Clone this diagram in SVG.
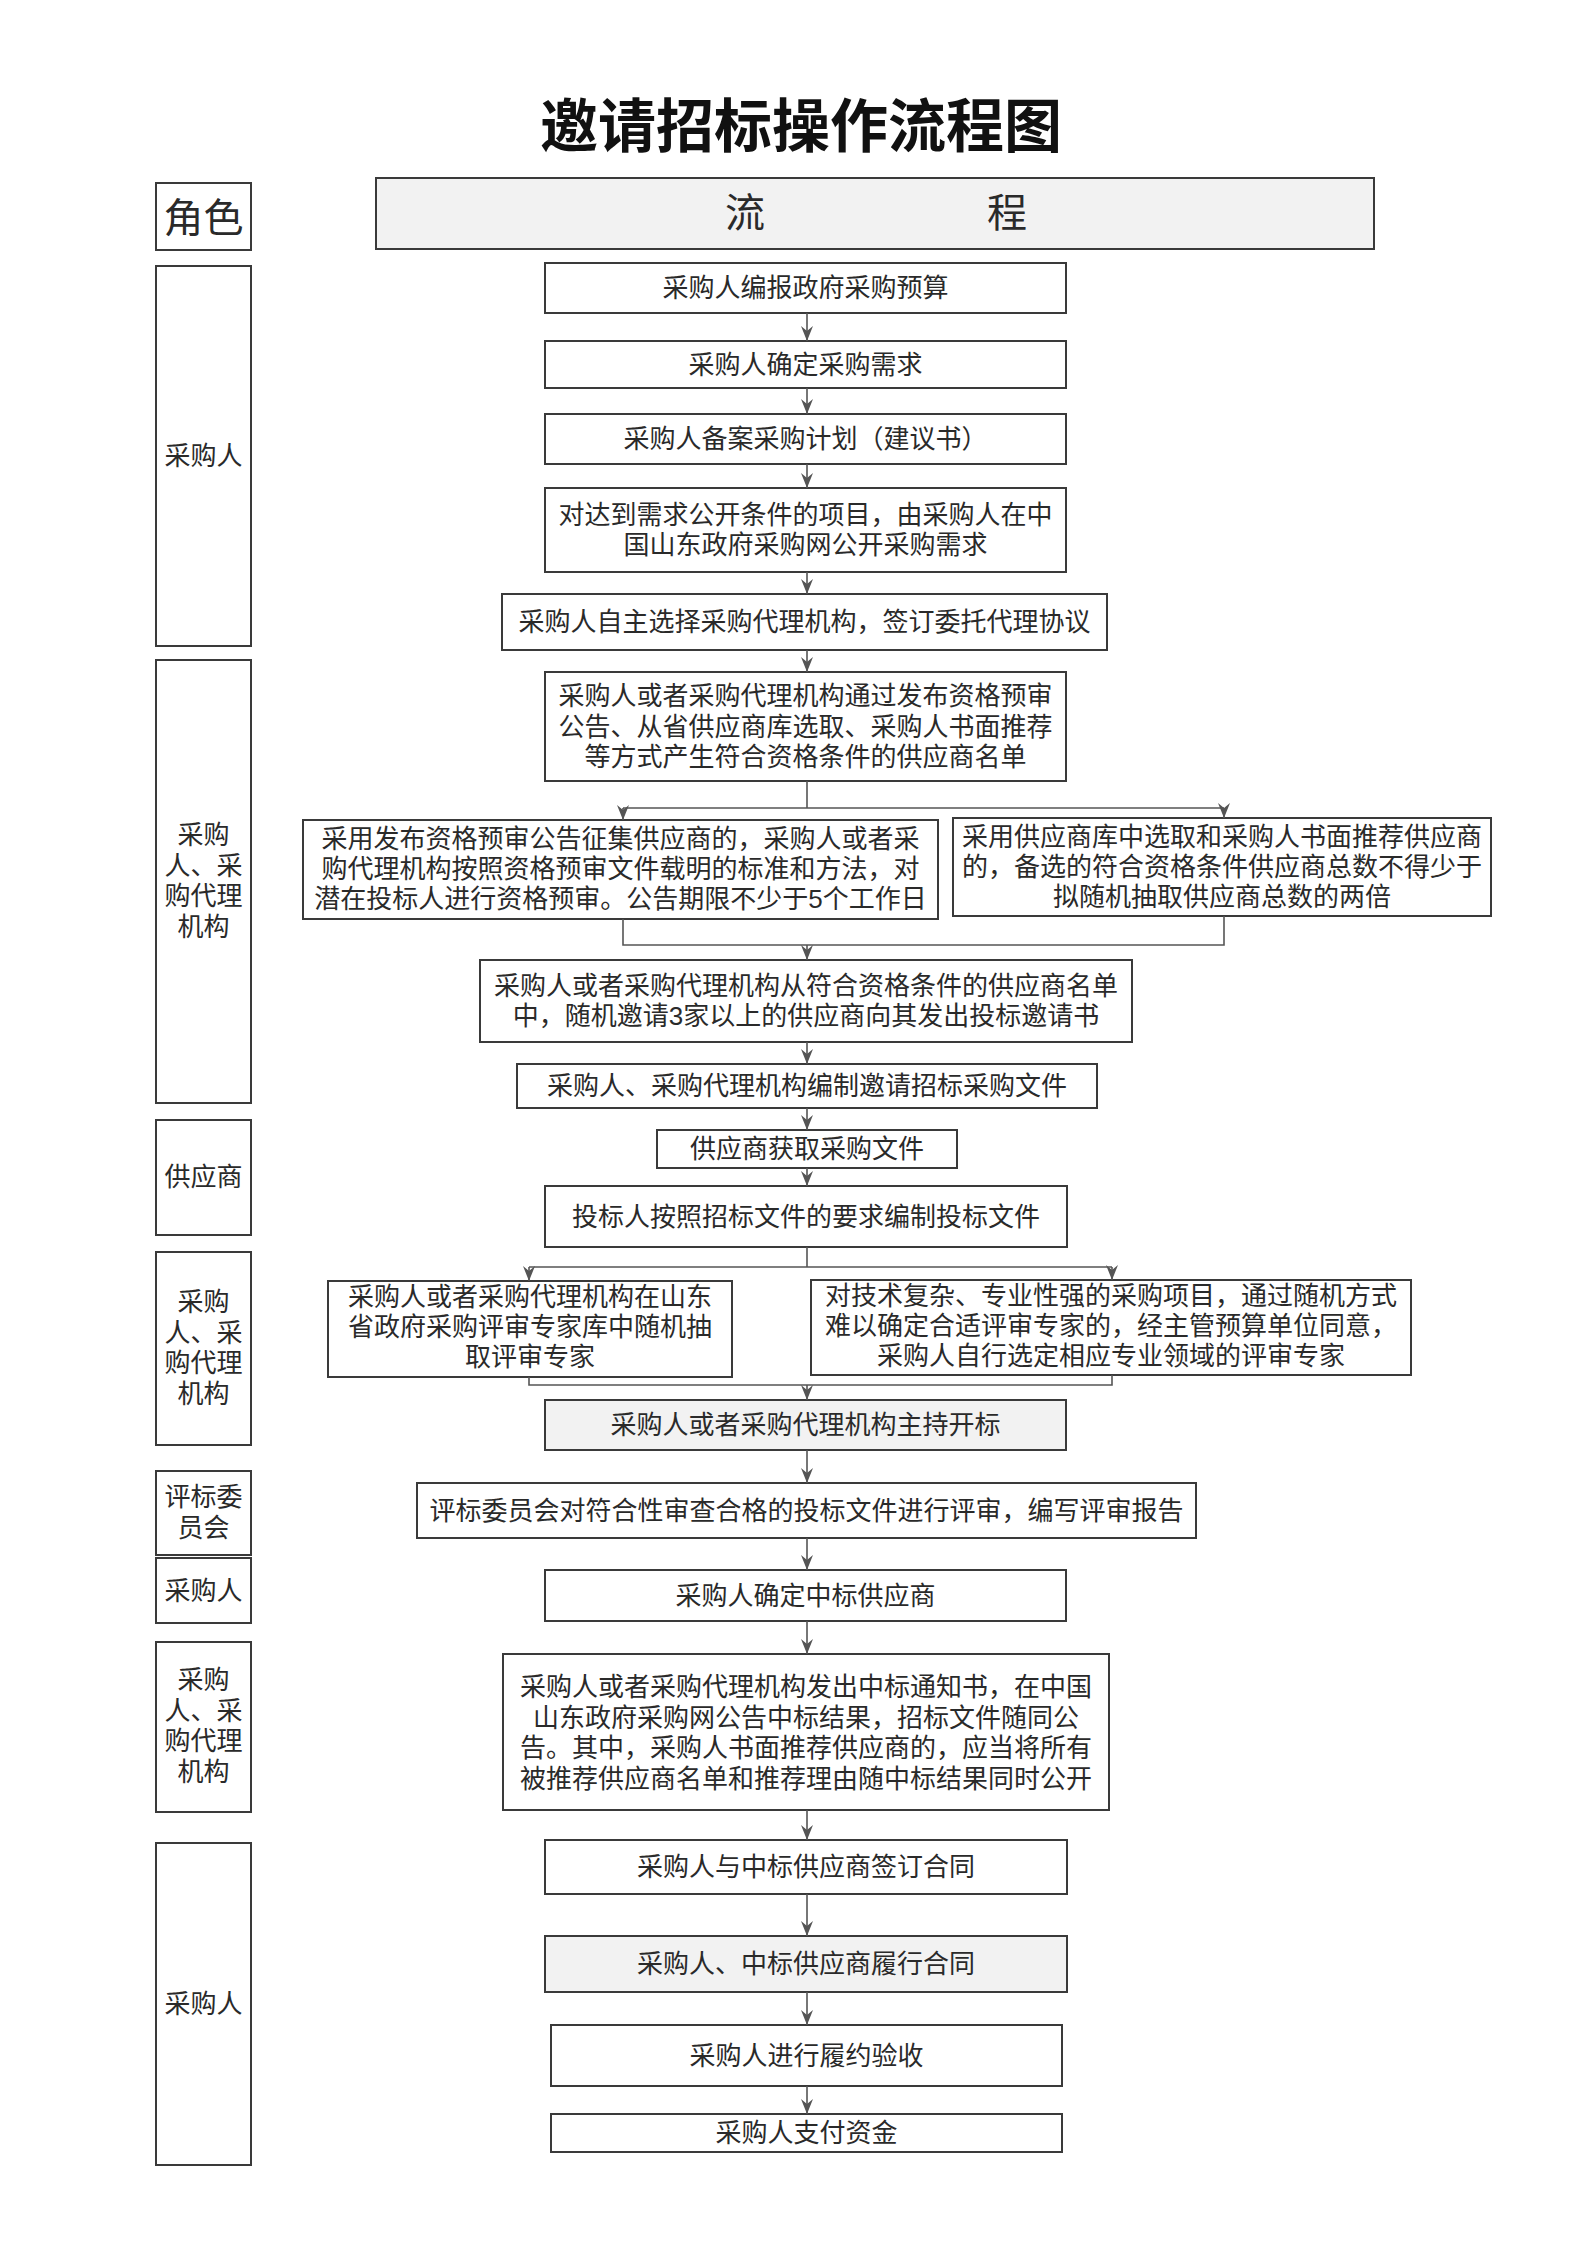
<svg xmlns="http://www.w3.org/2000/svg" width="1587" height="2244" viewBox="0 0 1587 2244">
<style>
.bg{fill:#ffffff}
.box{fill:#ffffff;stroke:#3a3a3a;stroke-width:2}
.shade{fill:#f2f2f2;stroke:#3a3a3a;stroke-width:2}
.role{fill:#ffffff;stroke:#3a3a3a;stroke-width:2}
text{font-family:"Liberation Sans","Noto Sans CJK SC",sans-serif;fill:#2a2a2a;text-anchor:middle;dominant-baseline:central}
.t{font-size:26px}
.r{font-size:26px}
.h{font-size:40px}
.title{font-size:58px;font-weight:bold;fill:#111}
.ln{fill:none;stroke:#555;stroke-width:1.6}
</style>
<defs>
<marker id="ah" markerUnits="userSpaceOnUse" markerWidth="15" markerHeight="12" viewBox="0 0 15 12" refX="15" refY="6" orient="auto">
<path d="M0,0 L15,6 L0,12 L5,6 Z" fill="#555"/>
</marker>
</defs>
<rect class="bg" x="0" y="0" width="1587" height="2244"/>

<g id="title"><text class="title" x="801" y="126">邀请招标操作流程图</text></g>

<g id="hdr-role"><rect class="role" x="156" y="183" width="95" height="67"/><text class="h" x="203.5" y="218">角色</text></g>
<g id="hdr-flow"><rect class="shade" x="376" y="178" width="998" height="71"/><text class="h" x="745" y="213">流</text><text class="h" x="1007" y="213">程</text></g>

<g id="role1"><rect class="role" x="156" y="266" width="95" height="380"/><text class="r" x="203.5" y="456">采购人</text></g>
<g id="role2"><rect class="role" x="156" y="660" width="95" height="443"/>
<text class="r" x="203.5" y="835">采购<tspan x="203.5" dy="30.5">人、采</tspan><tspan x="203.5" dy="30.5">购代理</tspan><tspan x="203.5" dy="30.5">机构</tspan></text></g>
<g id="role3"><rect class="role" x="156" y="1120" width="95" height="115"/><text class="r" x="203.5" y="1177">供应商</text></g>
<g id="role4"><rect class="role" x="156" y="1252" width="95" height="193"/>
<text class="r" x="203.5" y="1302">采购<tspan x="203.5" dy="30.5">人、采</tspan><tspan x="203.5" dy="30.5">购代理</tspan><tspan x="203.5" dy="30.5">机构</tspan></text></g>
<g id="role5"><rect class="role" x="156" y="1471" width="95" height="84"/>
<text class="r" x="203.5" y="1497">评标委<tspan x="203.5" dy="31">员会</tspan></text></g>
<g id="role6"><rect class="role" x="156" y="1558" width="95" height="65"/><text class="r" x="203.5" y="1591">采购人</text></g>
<g id="role7"><rect class="role" x="156" y="1642" width="95" height="170"/>
<text class="r" x="203.5" y="1680">采购<tspan x="203.5" dy="30.5">人、采</tspan><tspan x="203.5" dy="30.5">购代理</tspan><tspan x="203.5" dy="30.5">机构</tspan></text></g>
<g id="role8"><rect class="role" x="156" y="1843" width="95" height="322"/><text class="r" x="203.5" y="2004">采购人</text></g>

<g id="b1"><rect class="box" x="545" y="263" width="521" height="50"/><text class="t" x="805.5" y="288">采购人编报政府采购预算</text></g>
<g id="b2"><rect class="box" x="545" y="341" width="521" height="47"/><text class="t" x="805.5" y="364.5">采购人确定采购需求</text></g>
<g id="b3"><rect class="box" x="545" y="414" width="521" height="50"/><text class="t" x="805.5" y="439">采购人备案采购计划（建议书）</text></g>
<g id="b4"><rect class="box" x="545" y="488" width="521" height="84"/>
<text class="t" x="805.5" y="515">对达到需求公开条件的项目，由采购人在中<tspan x="805.5" dy="30">国山东政府采购网公开采购需求</tspan></text></g>
<g id="b5"><rect class="box" x="502" y="594" width="605" height="56"/><text class="t" x="804.5" y="622">采购人自主选择采购代理机构，签订委托代理协议</text></g>
<g id="b6"><rect class="box" x="545" y="672" width="521" height="109"/>
<text class="t" x="805.5" y="696">采购人或者采购代理机构通过发布资格预审<tspan x="805.5" dy="30.5">公告、从省供应商库选取、采购人书面推荐</tspan><tspan x="805.5" dy="30.5">等方式产生符合资格条件的供应商名单</tspan></text></g>
<g id="b7l"><rect class="box" x="303" y="820" width="635" height="99"/>
<text class="t" x="620.5" y="839">采用发布资格预审公告征集供应商的，采购人或者采<tspan x="620.5" dy="30">购代理机构按照资格预审文件载明的标准和方法，对</tspan><tspan x="620.5" dy="30">潜在投标人进行资格预审。公告期限不少于5个工作日</tspan></text></g>
<g id="b7r"><rect class="box" x="953" y="818" width="538" height="98"/>
<text class="t" x="1222" y="837">采用供应商库中选取和采购人书面推荐供应商<tspan x="1222" dy="30">的，备选的符合资格条件供应商总数不得少于</tspan><tspan x="1222" dy="30">拟随机抽取供应商总数的两倍</tspan></text></g>
<g id="b8"><rect class="box" x="480" y="960" width="652" height="82"/>
<text class="t" x="806" y="986">采购人或者采购代理机构从符合资格条件的供应商名单<tspan x="806" dy="30">中，随机邀请3家以上的供应商向其发出投标邀请书</tspan></text></g>
<g id="b9"><rect class="box" x="517" y="1064" width="580" height="44"/><text class="t" x="807" y="1086">采购人、采购代理机构编制邀请招标采购文件</text></g>
<g id="b10"><rect class="box" x="657" y="1130" width="300" height="38"/><text class="t" x="807" y="1149">供应商获取采购文件</text></g>
<g id="b11"><rect class="box" x="545" y="1186" width="522" height="61"/><text class="t" x="806" y="1216.5">投标人按照招标文件的要求编制投标文件</text></g>
<g id="b12l"><rect class="box" x="328" y="1281" width="404" height="96"/>
<text class="t" x="530" y="1297">采购人或者采购代理机构在山东<tspan x="530" dy="30">省政府采购评审专家库中随机抽</tspan><tspan x="530" dy="30">取评审专家</tspan></text></g>
<g id="b12r"><rect class="box" x="811" y="1280" width="600" height="95"/>
<text class="t" x="1111" y="1296">对技术复杂、专业性强的采购项目，通过随机方式<tspan x="1111" dy="30">难以确定合适评审专家的，经主管预算单位同意，</tspan><tspan x="1111" dy="30">采购人自行选定相应专业领域的评审专家</tspan></text></g>
<g id="b13"><rect class="shade" x="545" y="1400" width="521" height="50"/><text class="t" x="805.5" y="1425">采购人或者采购代理机构主持开标</text></g>
<g id="b14"><rect class="box" x="417" y="1483" width="779" height="55"/><text class="t" x="806.5" y="1510.5">评标委员会对符合性审查合格的投标文件进行评审，编写评审报告</text></g>
<g id="b15"><rect class="box" x="545" y="1570" width="521" height="51"/><text class="t" x="805.5" y="1595.5">采购人确定中标供应商</text></g>
<g id="b16"><rect class="box" x="503" y="1654" width="606" height="156"/>
<text class="t" x="806" y="1687">采购人或者采购代理机构发出中标通知书，在中国<tspan x="806" dy="30.5">山东政府采购网公告中标结果，招标文件随同公</tspan><tspan x="806" dy="30.5">告。其中，采购人书面推荐供应商的，应当将所有</tspan><tspan x="806" dy="30.5">被推荐供应商名单和推荐理由随中标结果同时公开</tspan></text></g>
<g id="b17"><rect class="box" x="545" y="1840" width="522" height="54"/><text class="t" x="806" y="1867">采购人与中标供应商签订合同</text></g>
<g id="b18"><rect class="shade" x="545" y="1936" width="522" height="56"/><text class="t" x="806" y="1964">采购人、中标供应商履行合同</text></g>
<g id="b19"><rect class="box" x="551" y="2025" width="511" height="61"/><text class="t" x="806.5" y="2055.5">采购人进行履约验收</text></g>
<g id="b20"><rect class="box" x="551" y="2114" width="511" height="38"/><text class="t" x="806.5" y="2133">采购人支付资金</text></g>

<g id="connectors">
<line class="ln" x1="807" y1="313" x2="807" y2="341" marker-end="url(#ah)"/>
<line class="ln" x1="807" y1="388" x2="807" y2="414" marker-end="url(#ah)"/>
<line class="ln" x1="807" y1="464" x2="807" y2="488" marker-end="url(#ah)"/>
<line class="ln" x1="807" y1="572" x2="807" y2="594" marker-end="url(#ah)"/>
<line class="ln" x1="807" y1="650" x2="807" y2="672" marker-end="url(#ah)"/>
<path class="ln" d="M807,781 V808 M623,808 H1224"/>
<line class="ln" x1="623" y1="808" x2="623" y2="820" marker-end="url(#ah)"/>
<line class="ln" x1="1224" y1="808" x2="1224" y2="818" marker-end="url(#ah)"/>
<path class="ln" d="M623,919 V945 H1224 V916"/>
<line class="ln" x1="807" y1="945" x2="807" y2="960" marker-end="url(#ah)"/>
<line class="ln" x1="807" y1="1042" x2="807" y2="1064" marker-end="url(#ah)"/>
<line class="ln" x1="807" y1="1108" x2="807" y2="1130" marker-end="url(#ah)"/>
<line class="ln" x1="807" y1="1168" x2="807" y2="1186" marker-end="url(#ah)"/>
<path class="ln" d="M807,1247 V1267 M529,1267 H1112"/>
<line class="ln" x1="529" y1="1267" x2="529" y2="1281" marker-end="url(#ah)"/>
<line class="ln" x1="1112" y1="1267" x2="1112" y2="1280" marker-end="url(#ah)"/>
<path class="ln" d="M529,1377 V1385 H1112 V1375"/>
<line class="ln" x1="807" y1="1385" x2="807" y2="1400" marker-end="url(#ah)"/>
<line class="ln" x1="807" y1="1450" x2="807" y2="1483" marker-end="url(#ah)"/>
<line class="ln" x1="807" y1="1538" x2="807" y2="1570" marker-end="url(#ah)"/>
<line class="ln" x1="807" y1="1621" x2="807" y2="1654" marker-end="url(#ah)"/>
<line class="ln" x1="807" y1="1810" x2="807" y2="1840" marker-end="url(#ah)"/>
<line class="ln" x1="807" y1="1894" x2="807" y2="1936" marker-end="url(#ah)"/>
<line class="ln" x1="807" y1="1992" x2="807" y2="2025" marker-end="url(#ah)"/>
<line class="ln" x1="807" y1="2086" x2="807" y2="2114" marker-end="url(#ah)"/>
</g>
</svg>
